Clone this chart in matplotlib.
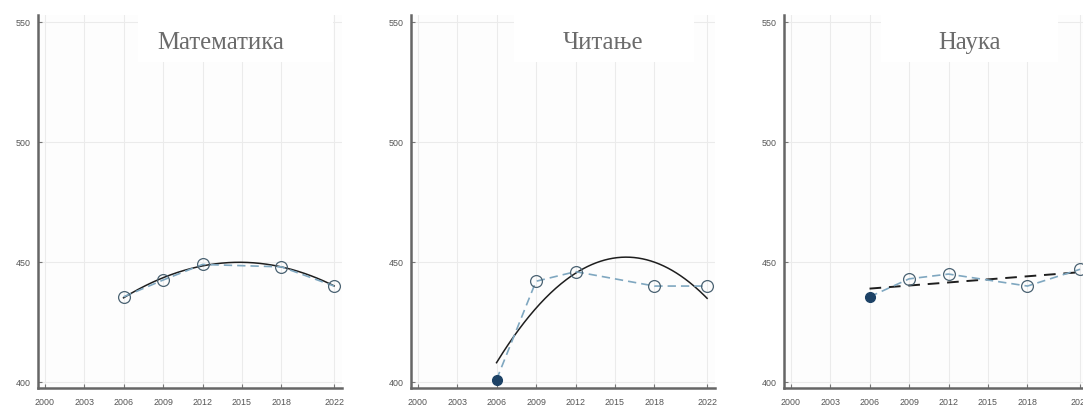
import numpy as np
import matplotlib.pyplot as plt
from matplotlib.patches import Rectangle

# PISA scores by cycle
years = [2006, 2009, 2012, 2018, 2022]
math_scores = [435.5, 442.5, 449, 448, 440]
reading_scores = [401, 442, 446, 440, 440]
science_scores = [435.5, 443, 445, 440, 447]

titles = ["Математика", "Читање", "Наука"]
tick_years = [2000, 2003, 2006, 2009, 2012, 2015, 2018, 2022]
y_ticks = [400, 450, 500, 550]

# fit degree per subject (2 = quadratic, 1 = linear) and fit line style
fits = [(2, "-"), (2, "-"), (1, "--")]
first_filled = [False, True, True]

fig = plt.figure(figsize=(10.83, 4.07), dpi=100)
fig.patch.set_facecolor("white")

lefts = [38, 411, 784]
title_x = [0.60, 0.63, 0.61]
box_x = [(0.33, 0.97), (0.34, 0.93), (0.32, 0.90)]

series = [math_scores, reading_scores, science_scores]

for i in range(3):
    ax = fig.add_axes([lefts[i] / 1083, 19 / 407, 304 / 1083, 373 / 407])
    ax.set_facecolor("#fdfdfd")
    ax.set_xlim(1999.5, 2022.6)
    ax.set_ylim(397.5, 553)
    ax.set_xticks(tick_years)
    ax.set_yticks(y_ticks)
    ax.tick_params(direction="in", length=3, width=0.8, color="#777",
                   labelcolor="#555", labelsize=6.4)
    for lab in ax.get_xticklabels() + ax.get_yticklabels():
        lab.set_family("Liberation Sans")
    ax.tick_params(axis="x", pad=7)
    ax.tick_params(axis="y", pad=5)
    for s in ["top", "right"]:
        ax.spines[s].set_visible(False)
    for s in ["left", "bottom"]:
        ax.spines[s].set_color("#666")
        ax.spines[s].set_linewidth(1.8)
    ax.grid(True, color="#ebebeb", linewidth=0.8)
    ax.set_axisbelow(True)

    # white plate behind the subject name
    x0, x1 = box_x[i]
    ax.add_patch(Rectangle((x0, 0.874), x1 - x0, 0.13, transform=ax.transAxes,
                           facecolor="white", edgecolor="none", zorder=1,
                           clip_on=False))
    ax.text(title_x[i], 0.925, titles[i], transform=ax.transAxes,
            ha="center", va="center", fontsize=17.8, color="#6b6b6b",
            family="Liberation Serif", zorder=2)

    vals = series[i]
    deg, ls = fits[i]
    xs = np.array(years) - 2000
    coef = np.polyfit(xs, vals, deg)
    xf = np.linspace(xs[0], xs[-1], 200)
    ax.plot(xf + 2000, np.polyval(coef, xf), color="#1e1e1e", linestyle=ls,
            linewidth=1.4 if deg == 1 else 1.1,
            dashes=(6, 4) if deg == 1 else (None, None), zorder=3)

    ax.plot(years, vals, color="#7fa7c0", linestyle="--", dashes=(5, 3),
            linewidth=1.2, zorder=4)
    start = 1 if first_filled[i] else 0
    ax.plot(years[start:], vals[start:], linestyle="none", marker="o",
            markersize=8.5, markerfacecolor="none", markeredgecolor="#4a6272",
            markeredgewidth=0.9, zorder=5)
    if first_filled[i]:
        ax.plot(years[:1], vals[:1], linestyle="none", marker="o",
                markersize=7, markerfacecolor="#1d4266",
                markeredgecolor="#1d4266", zorder=5)

fig.savefig("out.png", dpi=100)
